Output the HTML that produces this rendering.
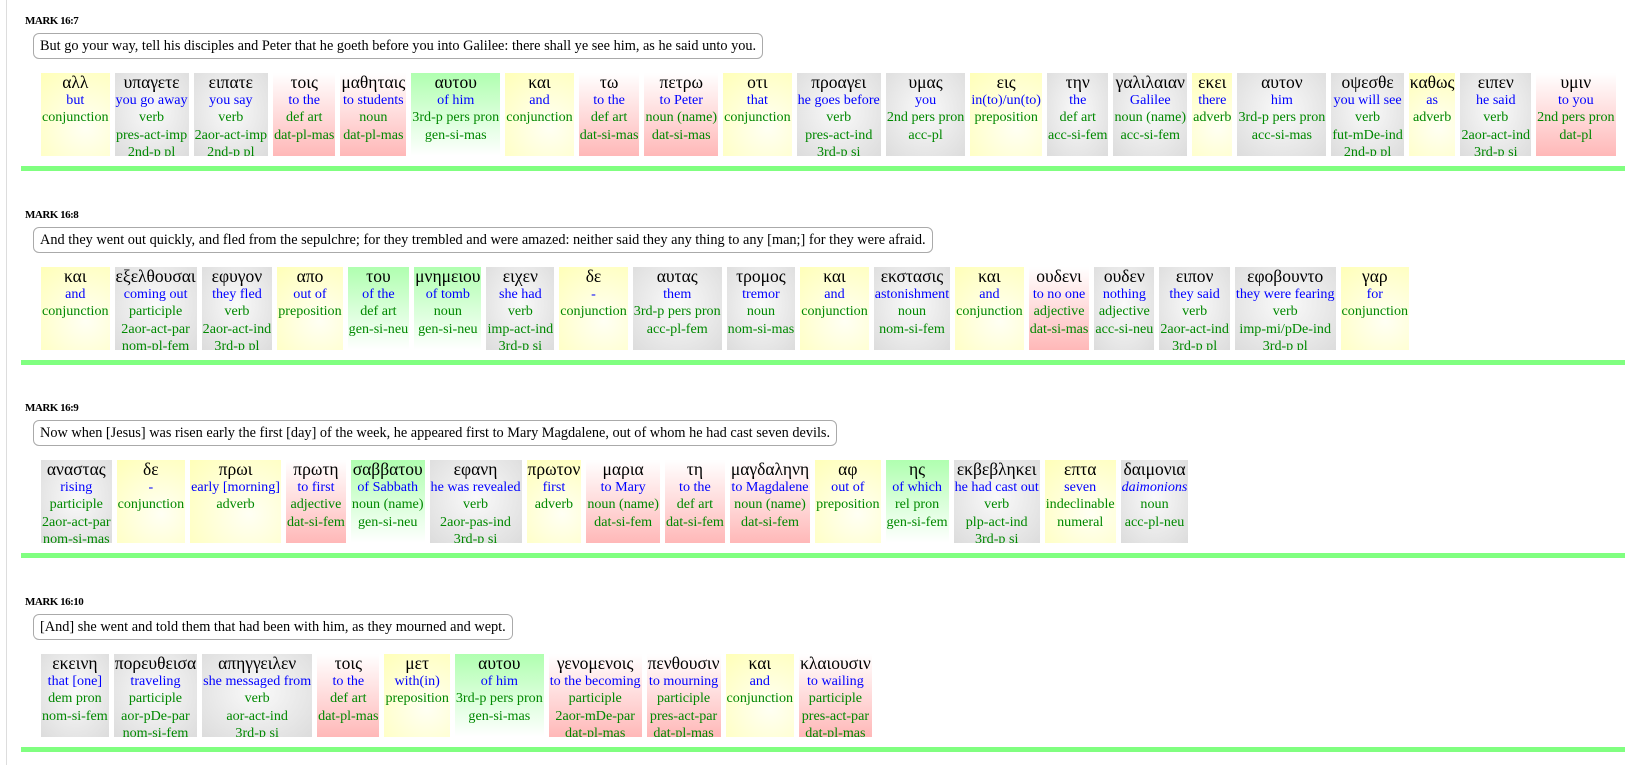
<!DOCTYPE html>
<html><head><meta charset="utf-8"><style>
body{margin:0;width:1625px;height:765px;background:#fff;font-family:"Liberation Serif",serif;position:relative;overflow:hidden}
.pg{position:absolute;left:6px;top:0;width:1px;height:765px;background:#ddd}
.v{position:absolute;left:0;width:1625px}
.lab{position:absolute;left:25px;top:1px;font-size:11px;font-weight:bold;letter-spacing:-0.5px}
.en{position:absolute;left:33px;top:19px;height:24px;border:1px solid #aaa;border-radius:6px;font-size:14.3px;line-height:24px;padding:0 6px;white-space:nowrap}
.row{position:absolute;left:41px;top:59px;display:flex;gap:5px}
.c{height:83px;overflow:hidden;text-align:center;font-size:14.1px;line-height:17.4px;white-space:nowrap;padding:0 1px}
.c b{display:block;font-weight:normal;font-size:17.5px;line-height:19px;color:#000}
.c i{display:block;font-style:normal;color:#00f}
.c s{display:block;text-decoration:none;color:#080}
.Y{background:radial-gradient(circle at 65% 65%,#fffff4,#ffffb8)}
.G{background:radial-gradient(ellipse at 50% 45%,#fafafa,#dcdcdc)}
.R{background:linear-gradient(#fff,#ffb8b8)}
.N{background:linear-gradient(#b0ffb0,#fff)}
.ln{position:absolute;left:21px;top:152px;width:1604px;height:5px;background:#80ff80}
</style></head><body><div class="pg"></div>

<div class="v" style="top:14px"><div class="lab">MARK 16:7</div>
<div class="en">But go your way, tell his disciples and Peter that he goeth before you into Galilee: there shall ye see him, as he said unto you.</div>
<div class="row">
<div class="c Y"><b>αλλ</b><i>but</i><s>conjunction</s></div>
<div class="c G"><b>υπαγετε</b><i>you go away</i><s>verb</s><s>pres-act-imp</s><s>2nd-p pl</s></div>
<div class="c G"><b>ειπατε</b><i>you say</i><s>verb</s><s>2aor-act-imp</s><s>2nd-p pl</s></div>
<div class="c R"><b>τοις</b><i>to the</i><s>def art</s><s>dat-pl-mas</s></div>
<div class="c R"><b>μαθηταις</b><i>to students</i><s>noun</s><s>dat-pl-mas</s></div>
<div class="c N"><b>αυτου</b><i>of him</i><s>3rd-p pers pron</s><s>gen-si-mas</s></div>
<div class="c Y"><b>και</b><i>and</i><s>conjunction</s></div>
<div class="c R"><b>τω</b><i>to the</i><s>def art</s><s>dat-si-mas</s></div>
<div class="c R"><b>πετρω</b><i>to Peter</i><s>noun (name)</s><s>dat-si-mas</s></div>
<div class="c Y"><b>οτι</b><i>that</i><s>conjunction</s></div>
<div class="c G"><b>προαγει</b><i>he goes before</i><s>verb</s><s>pres-act-ind</s><s>3rd-p si</s></div>
<div class="c G"><b>υμας</b><i>you</i><s>2nd pers pron</s><s>acc-pl</s></div>
<div class="c Y"><b>εις</b><i>in(to)/un(to)</i><s>preposition</s></div>
<div class="c G"><b>την</b><i>the</i><s>def art</s><s>acc-si-fem</s></div>
<div class="c G"><b>γαλιλαιαν</b><i>Galilee</i><s>noun (name)</s><s>acc-si-fem</s></div>
<div class="c Y"><b>εκει</b><i>there</i><s>adverb</s></div>
<div class="c G"><b>αυτον</b><i>him</i><s>3rd-p pers pron</s><s>acc-si-mas</s></div>
<div class="c G"><b>οψεσθε</b><i>you will see</i><s>verb</s><s>fut-mDe-ind</s><s>2nd-p pl</s></div>
<div class="c Y"><b>καθως</b><i>as</i><s>adverb</s></div>
<div class="c G"><b>ειπεν</b><i>he said</i><s>verb</s><s>2aor-act-ind</s><s>3rd-p si</s></div>
<div class="c R"><b>υμιν</b><i>to you</i><s>2nd pers pron</s><s>dat-pl</s></div>
</div><div class="ln"></div></div>

<div class="v" style="top:208px"><div class="lab">MARK 16:8</div>
<div class="en">And they went out quickly, and fled from the sepulchre; for they trembled and were amazed: neither said they any thing to any [man;] for they were afraid.</div>
<div class="row">
<div class="c Y"><b>και</b><i>and</i><s>conjunction</s></div>
<div class="c G"><b>εξελθουσαι</b><i>coming out</i><s>participle</s><s>2aor-act-par</s><s>nom-pl-fem</s></div>
<div class="c G"><b>εφυγον</b><i>they fled</i><s>verb</s><s>2aor-act-ind</s><s>3rd-p pl</s></div>
<div class="c Y"><b>απο</b><i>out of</i><s>preposition</s></div>
<div class="c N"><b>του</b><i>of the</i><s>def art</s><s>gen-si-neu</s></div>
<div class="c N"><b>μνημειου</b><i>of tomb</i><s>noun</s><s>gen-si-neu</s></div>
<div class="c G"><b>ειχεν</b><i>she had</i><s>verb</s><s>imp-act-ind</s><s>3rd-p si</s></div>
<div class="c Y"><b>δε</b><i>-</i><s>conjunction</s></div>
<div class="c G"><b>αυτας</b><i>them</i><s>3rd-p pers pron</s><s>acc-pl-fem</s></div>
<div class="c G"><b>τρομος</b><i>tremor</i><s>noun</s><s>nom-si-mas</s></div>
<div class="c Y"><b>και</b><i>and</i><s>conjunction</s></div>
<div class="c G"><b>εκστασις</b><i>astonishment</i><s>noun</s><s>nom-si-fem</s></div>
<div class="c Y"><b>και</b><i>and</i><s>conjunction</s></div>
<div class="c R"><b>ουδενι</b><i>to no one</i><s>adjective</s><s>dat-si-mas</s></div>
<div class="c G"><b>ουδεν</b><i>nothing</i><s>adjective</s><s>acc-si-neu</s></div>
<div class="c G"><b>ειπον</b><i>they said</i><s>verb</s><s>2aor-act-ind</s><s>3rd-p pl</s></div>
<div class="c G"><b>εφοβουντο</b><i>they were fearing</i><s>verb</s><s>imp-mi/pDe-ind</s><s>3rd-p pl</s></div>
<div class="c Y"><b>γαρ</b><i>for</i><s>conjunction</s></div>
</div><div class="ln"></div></div>

<div class="v" style="top:401px"><div class="lab">MARK 16:9</div>
<div class="en">Now when [Jesus] was risen early the first [day] of the week, he appeared first to Mary Magdalene, out of whom he had cast seven devils.</div>
<div class="row">
<div class="c G"><b>αναστας</b><i>rising</i><s>participle</s><s>2aor-act-par</s><s>nom-si-mas</s></div>
<div class="c Y"><b>δε</b><i>-</i><s>conjunction</s></div>
<div class="c Y"><b>πρωι</b><i>early [morning]</i><s>adverb</s></div>
<div class="c R"><b>πρωτη</b><i>to first</i><s>adjective</s><s>dat-si-fem</s></div>
<div class="c N"><b>σαββατου</b><i>of Sabbath</i><s>noun (name)</s><s>gen-si-neu</s></div>
<div class="c G"><b>εφανη</b><i>he was revealed</i><s>verb</s><s>2aor-pas-ind</s><s>3rd-p si</s></div>
<div class="c Y"><b>πρωτον</b><i>first</i><s>adverb</s></div>
<div class="c R"><b>μαρια</b><i>to Mary</i><s>noun (name)</s><s>dat-si-fem</s></div>
<div class="c R"><b>τη</b><i>to the</i><s>def art</s><s>dat-si-fem</s></div>
<div class="c R"><b>μαγδαληνη</b><i>to Magdalene</i><s>noun (name)</s><s>dat-si-fem</s></div>
<div class="c Y"><b>αφ</b><i>out of</i><s>preposition</s></div>
<div class="c N"><b>ης</b><i>of which</i><s>rel pron</s><s>gen-si-fem</s></div>
<div class="c G"><b>εκβεβληκει</b><i>he had cast out</i><s>verb</s><s>plp-act-ind</s><s>3rd-p si</s></div>
<div class="c Y"><b>επτα</b><i>seven</i><s>indeclinable</s><s>numeral</s></div>
<div class="c G"><b>δαιμονια</b><i style="font-style:italic">daimonions</i><s>noun</s><s>acc-pl-neu</s></div>
</div><div class="ln"></div></div>

<div class="v" style="top:595px"><div class="lab">MARK 16:10</div>
<div class="en">[And] she went and told them that had been with him, as they mourned and wept.</div>
<div class="row">
<div class="c G"><b>εκεινη</b><i>that [one]</i><s>dem pron</s><s>nom-si-fem</s></div>
<div class="c G"><b>πορευθεισα</b><i>traveling</i><s>participle</s><s>aor-pDe-par</s><s>nom-si-fem</s></div>
<div class="c G"><b>απηγγειλεν</b><i>she messaged from</i><s>verb</s><s>aor-act-ind</s><s>3rd-p si</s></div>
<div class="c R"><b>τοις</b><i>to the</i><s>def art</s><s>dat-pl-mas</s></div>
<div class="c Y"><b>μετ</b><i>with(in)</i><s>preposition</s></div>
<div class="c N"><b>αυτου</b><i>of him</i><s>3rd-p pers pron</s><s>gen-si-mas</s></div>
<div class="c R"><b>γενομενοις</b><i>to the becoming</i><s>participle</s><s>2aor-mDe-par</s><s>dat-pl-mas</s></div>
<div class="c R"><b>πενθουσιν</b><i>to mourning</i><s>participle</s><s>pres-act-par</s><s>dat-pl-mas</s></div>
<div class="c Y"><b>και</b><i>and</i><s>conjunction</s></div>
<div class="c R"><b>κλαιουσιν</b><i>to wailing</i><s>participle</s><s>pres-act-par</s><s>dat-pl-mas</s></div>
</div><div class="ln"></div></div>
</body></html>
